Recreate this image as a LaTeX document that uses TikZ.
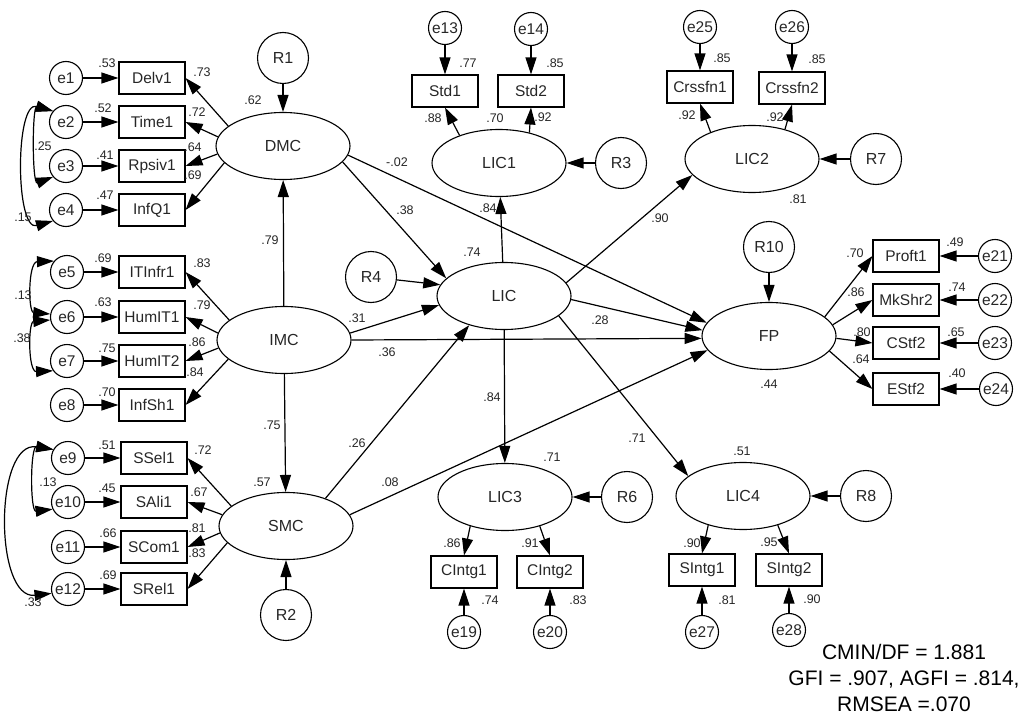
\documentclass[tikz,border=0pt]{standalone}
\usepackage{fontspec}
\setmainfont{Liberation Sans}
\usetikzlibrary{arrows.meta,shapes}
\tikzstyle{latent}=[ellipse,draw,line width=1.1pt,minimum width=134pt,minimum height=67pt,inner sep=0pt,text=black!85,font=\fontsize{16}{18}\selectfont]
\tikzstyle{observed}=[rectangle,draw,line width=1.1pt,minimum width=66pt,minimum height=32pt,inner sep=0pt,text=black!85,font=\fontsize{15.5}{18}\selectfont]
\tikzstyle{errvertex}=[circle,draw,line width=1.1pt,minimum size=33pt,inner sep=0pt,text=black!85,font=\fontsize{15.5}{18}\selectfont]
\tikzstyle{resvertex}=[circle,draw,line width=1.1pt,minimum size=51pt,inner sep=0pt,text=black!85,font=\fontsize{16}{18}\selectfont]
\tikzstyle{arrowedge}=[draw,line width=1.2pt,-{Triangle[length=17pt,width=11pt]}]
\tikzstyle{covedge}=[draw,line width=1.2pt,{Triangle[length=17pt,width=11pt]}-{Triangle[length=17pt,width=11pt]}]
\tikzstyle{weight}=[inner sep=0pt,text=black!85,font=\fontsize{12.5}{14}\selectfont]

\begin{document}
\begin{tikzpicture}[x=1pt,y=-1pt]
    \useasboundingbox (0,0) rectangle (1031,717);
    % latent variables
    \foreach \pos/\name in {{(283,146)/DMC}, {(284,340)/IMC}, {(286,526)/SMC}, {(504,296)/LIC}, {(499,163)/LIC1}, {(752,159)/LIC2}, {(769,336)/FP}, {(505,497)/LIC3}, {(743,496)/LIC4}}
        \node[latent] (\name) at \pos {\name};
    % disturbances
    \foreach \pos/\name in {{(283,58)/R1}, {(286,615)/R2}, {(621,163)/R3}, {(371,277)/R4}, {(876,159)/R7}, {(769,247)/R10}, {(627,497)/R6}, {(866,496)/R8}}
        \node[resvertex] (\name) at \pos {\name};
    % indicators
    \foreach \pos/\name in {{(152,78)/Delv1}, {(152,122)/Time1}, {(152,166)/Rpsiv1}, {(152,210)/InfQ1},
        {(152,272)/ITInfr1}, {(152,317)/HumIT1}, {(152,361)/HumIT2}, {(152,405)/InfSh1},
        {(154,458)/SSel1}, {(154,502)/SAli1}, {(154,547)/SCom1}, {(154,589)/SRel1},
        {(445,91)/Std1}, {(531,91)/Std2}, {(700,87)/Crssfn1}, {(792,88)/Crssfn2},
        {(906,256)/Proft1}, {(906,300)/MkShr2}, {(906,343)/CStf2}, {(906,389)/EStf2},
        {(464,572)/CIntg1}, {(550,572)/CIntg2}, {(702,570)/SIntg1}, {(789,570)/SIntg2}}
        \node[observed] (\name) at \pos {\name};
    % error terms
    \foreach \pos/\name in {{(66,78)/e1}, {(66,122)/e2}, {(66,166)/e3}, {(66,210)/e4},
        {(67,272)/e5}, {(67,317)/e6}, {(67,361)/e7}, {(67,405)/e8},
        {(68,458)/e9}, {(68,502)/e10}, {(68,547)/e11}, {(68,589)/e12},
        {(445,28)/e13}, {(531,29)/e14}, {(700,27)/e25}, {(792,27)/e26},
        {(995,256)/e21}, {(995,300)/e22}, {(995,343)/e23}, {(996,389)/e24},
        {(464,632)/e19}, {(550,632)/e20}, {(702,632)/e27}, {(789,630)/e28}}
        \node[errvertex] (\name) at \pos {\name};

    % error and disturbance paths
    \foreach \source/\dest in {e1/Delv1, e2/Time1, e3/Rpsiv1, e4/InfQ1, e5/ITInfr1, e6/HumIT1, e7/HumIT2, e8/InfSh1,
        e9/SSel1, e10/SAli1, e11/SCom1, e12/SRel1, e13/Std1, e14/Std2, e25/Crssfn1, e26/Crssfn2,
        e21/Proft1, e22/MkShr2, e23/CStf2, e24/EStf2, e19/CIntg1, e20/CIntg2, e27/SIntg1, e28/SIntg2,
        R1/DMC, R2/SMC, R3/LIC1, R7/LIC2, R10/FP, R6/LIC3, R8/LIC4, R4/LIC.170}
        \path[arrowedge] (\source) -- (\dest);

    % loadings
    \foreach \source/\dest in {DMC.160/Delv1.east, DMC.172/Time1.east, DMC.187/Rpsiv1.east, DMC.196/InfQ1.east,
        IMC.160/ITInfr1.east, IMC.174/HumIT1.east, IMC.187/HumIT2.east, IMC.199/InfSh1.east,
        SMC.160/SSel1.east, SMC.170/SAli1.east, SMC.186/SCom1.east, SMC.196/SRel1.east,
        LIC1.145/Std1.south, LIC1.45/Std2.south, LIC2.147/Crssfn1.south, LIC2.42/Crssfn2.south,
        FP.19/Proft1.west, FP.10/MkShr2.west, FP.358/CStf2.west, FP.346/EStf2.west,
        LIC3.220/CIntg1.north, LIC3.320/CIntg2.north, LIC4.220/SIntg1.north, LIC4.320/SIntg2.north}
        \path[arrowedge] (\source) -- (\dest);

    % structural paths
    \foreach \source/\dest in {IMC/DMC, IMC/SMC, DMC.345/LIC.163, DMC.352/FP.168, IMC.6/LIC.188, IMC.east/FP.182,
        SMC.35/LIC.220, SMC.10/FP.193, LIC/LIC1, LIC/LIC3, LIC.12/LIC2.195, LIC.340/LIC4.160, LIC.357/FP.175}
        \path[arrowedge] (\source) -- (\dest);

    % covariances
    \path[covedge] (e2.140) .. controls (32,105) and (32,185) .. (e3.220);
    \path[covedge] (e2.140) .. controls (15,100) and (15,232) .. (e4.220);
    \path[covedge] (e5.140) .. controls (28,262) and (28,312) .. (e6.170);
    \path[covedge] (e6.190) .. controls (28,322) and (28,372) .. (e7.215);
    \path[covedge] (e9.150) .. controls (30,445) and (30,512) .. (e10.205);
    \path[covedge] (e9.150) .. controls (-6,440) and (-6,600) .. (e12.195);

    % estimates
    \foreach \pos/\val [count=\i] in {(107,63)/.53, (103,108)/.52, (105,155)/.41, (105,195)/.47,
        (202,72)/.73, (197,112)/.72, (193,147)/.64, (193,175)/.69, (43,146)/.25, (23,217)/.15, (253,100)/.62,
        (103,258)/.69, (103,302)/.63, (107,348)/.75, (107,392)/.70,
        (202,263)/.83, (202,305)/.79, (197,342)/.86, (195,372)/.84, (23,295)/.13, (22,338)/.38,
        (107,445)/.51, (107,488)/.45, (108,533)/.66, (108,575)/.69,
        (203,450)/.72, (199,492)/.67, (197,528)/.81, (197,553)/.83, (48,482)/.13, (33,602)/.33, (262,482)/.57,
        (270,240)/.79, (272,425)/.75, (405,210)/.38, (397,162)/-.02, (357,318)/.31, (387,352)/.36,
        (472,252)/.74, (600,320)/.28, (492,397)/.84, (488,208)/.84, (660,218)/.90,
        (357,443)/.26, (390,482)/.08, (637,438)/.71,
        (468,63)/.77, (555,63)/.85, (433,118)/.88, (495,118)/.70, (543,117)/.92,
        (722,58)/.85, (817,59)/.85, (687,115)/.92, (775,117)/.92, (798,199)/.81,
        (855,253)/.70, (856,292)/.86, (862,332)/.80, (861,359)/.64, (769,384)/.44,
        (955,242)/.49, (957,287)/.74, (956,332)/.65, (957,373)/.40,
        (552,457)/.71, (452,543)/.86, (530,543)/.91, (490,600)/.74, (578,600)/.83,
        (742,451)/.51, (692,543)/.90, (769,542)/.95, (727,600)/.81, (812,599)/.90}
        \node[weight] (w\i) at \pos {\val};

    % fit indices
    \node[align=center,inner sep=0pt,font=\fontsize{21}{26}\selectfont] (fit) at (904,678)
        {CMIN/DF = 1.881\\ GFI = .907, AGFI = .814,\\ RMSEA =.070};
\end{tikzpicture}
\end{document}
